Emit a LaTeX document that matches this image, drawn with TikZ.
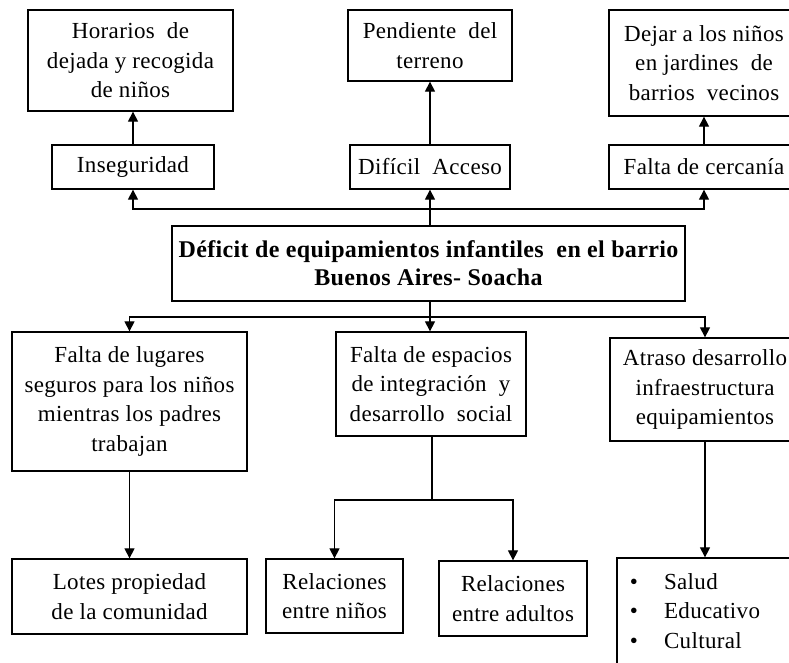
\documentclass[tikz,border=0pt]{standalone}
\usepackage{fontspec}
\setmainfont{Liberation Serif}[LetterSpace=1.5]
\usetikzlibrary{arrows.meta}
\tikzset{caja/.style={draw,line width=1.3pt,inner sep=0pt,align=center,font=\fontsize{23}{29.5}\selectfont},
  flecha/.style={-{Triangle[length=10pt,width=10pt]},line width=1.2pt}}

\begin{document}
\begin{tikzpicture}[x=1pt,y=-1pt]
  \useasboundingbox (0,0) rectangle (789,662);
  \clip (0,0) rectangle (789,662);
  \node[caja,minimum width=205pt,minimum height=101pt] (hor) at (130.5,60.5) {Horarios\ \ de\\dejada y recogida\\de niños};
  \node[caja,minimum width=162pt,minimum height=44pt] (inseg) at (133,167) {Inseguridad};
  \node[caja,minimum width=164pt,minimum height=71pt] (pend) at (430,45.5) {Pendiente\ \ del\\terreno};
  \node[caja,minimum width=160pt,minimum height=44pt] (dific) at (430,167) {Difícil\ \ Acceso};
  \node[caja,minimum width=190pt,minimum height=106pt] (dejar) at (704,63) {Dejar a los niños\\en jardines\ \ de\\barrios\ \ vecinos};
  \node[caja,minimum width=190pt,minimum height=44pt] (cerc) at (704,167) {Falta de cercanía};
  \node[caja,minimum width=513pt,minimum height=75pt,font=\fontsize{24}{28}\selectfont\bfseries] (main) at (428.5,263.5) {Déficit de equipamientos infantiles\ \ en el barrio\\Buenos Aires- Soacha};
  \node[caja,minimum width=235pt,minimum height=139pt] (lug) at (129.5,401.5) {Falta de lugares\\seguros para los niños\\mientras los padres\\trabajan};
  \node[caja,minimum width=190pt,minimum height=104pt] (esp) at (431,384) {Falta de espacios\\de integración\ \ y\\desarrollo\ \ social};
  \node[caja,minimum width=190pt,minimum height=103pt] (atr) at (705,389.5) {Atraso desarrollo\\infraestructura\\equipamientos};
  \node[caja,minimum width=235pt,minimum height=75pt] (lotes) at (129.5,596.5) {Lotes propiedad\\de la comunidad};
  \node[caja,minimum width=137pt,minimum height=74pt] (reln) at (334.5,596) {Relaciones\\entre niños};
  \node[caja,minimum width=148pt,minimum height=75pt] (rela) at (513,598.5) {Relaciones\\entre adultos};
  \node[caja,minimum width=180pt,minimum height=110pt] (bul) at (707,613) {\begin{tabular}{@{}l@{\hspace{26pt}}l@{\hspace{24pt}}}\textbullet&Salud\\ \textbullet&Educativo\\ \textbullet&Cultural\end{tabular}};

  \coordinate (arr) at (430,209);
  \coordinate (aba) at (430,317);
  \coordinate (med) at (432,500);

  \draw[flecha] (inseg.north) -- (inseg.north |- hor.south);
  \draw[flecha] (dific.north) -- (dific.north |- pend.south);
  \draw[flecha] (cerc.north) -- (cerc.north |- dejar.south);
  \draw[flecha] (main.north -| arr) -- (dific.south -| arr);
  \draw[flecha] (arr) -| (inseg.south);
  \draw[flecha] (arr) -| (cerc.south);

  \draw[line width=1.2pt] (main.south -| aba) -- (aba);
  \draw[flecha] (aba) -| (lug.north);
  \draw[flecha] (aba) -- (esp.north -| aba);
  \draw[flecha] (aba) -| (atr.north);
  \draw[flecha] (lug) -- (lotes);
  \draw[line width=2.2pt] (esp.south -| med) -- (med);
  \draw[flecha] (med) -| (reln.north);
  \draw[flecha] (med) -| (rela.north);
  \draw[flecha] (atr.south) -- (atr.south |- bul.north);
\end{tikzpicture}
\end{document}
